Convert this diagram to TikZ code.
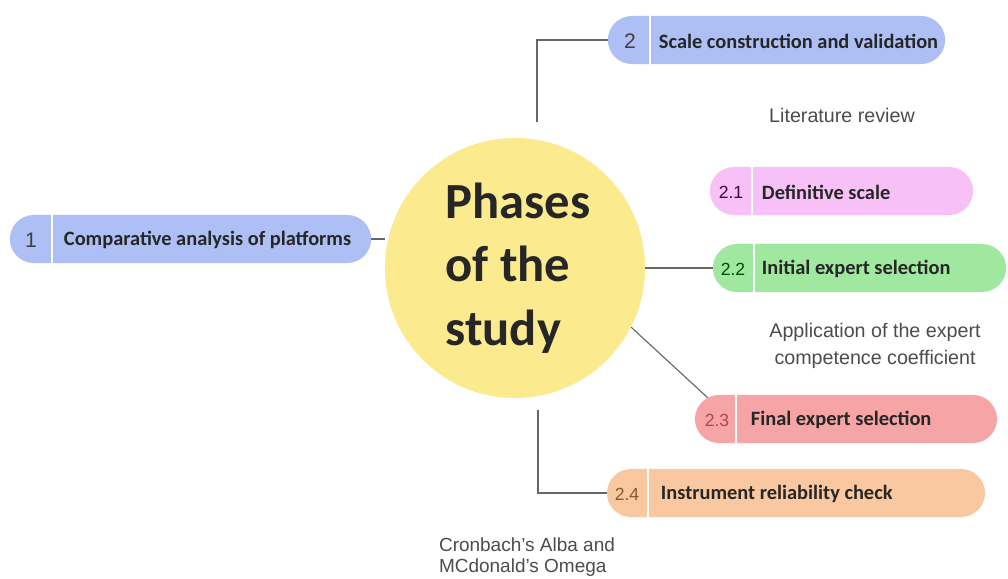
\documentclass[tikz,border=0pt]{standalone}
\usepackage{fontspec}
\setmainfont{Liberation Sans}
\newfontfamily\carlito{Carlito}
\usetikzlibrary{calc}
\definecolor{hubyellow}{HTML}{FBEA8E}
\definecolor{pblue}{HTML}{AEBFF5}
\definecolor{ppink}{HTML}{F7C0F7}
\definecolor{pgreen}{HTML}{A0E8A0}
\definecolor{pred}{HTML}{F5A5A5}
\definecolor{porange}{HTML}{F9C8A0}
\tikzset{
  pill/.style={rounded corners=0.6cm, minimum height=1.2cm, inner sep=0pt},
  num/.style={font=\fontsize{12.5}{12.5}\selectfont, text=black!70},
  bignum/.style={font=\fontsize{15}{15}\selectfont, text=black!75},
  lab/.style={anchor=west, font=\carlito\bfseries\fontsize{14.5}{14.5}\selectfont, text=black!85},
  note/.style={font=\fontsize{14}{17}\selectfont, text=black!70},
  link/.style={draw=black!60, line width=0.8pt},
  divider/.style={white, line width=1pt}
}
\begin{document}
\begin{tikzpicture}[x=0.025cm, y=-0.025cm]
\useasboundingbox[fill=white] (0,0) rectangle (1008,579);
% centre
\node[circle, fill=hubyellow, minimum size=6.5cm, inner sep=0pt] (hub) at (515,268) {};
\node[font=\carlito\bfseries\fontsize{36}{45}\selectfont, align=left, text=black!85] (title) at (518,268) {Phases\\of the\\study};
% phase 1
\node[pill, fill=pblue, minimum width=9.03cm] (p1) at (190.5,239) {};
\draw[divider] (52,215) -- (52,263);
\node[bignum] (n1) at (31,240) {1};
\node[lab] (l1) at (59,240) {Comparative analysis of platforms};
% phase 2
\node[pill, fill=pblue, minimum width=8.43cm] (p2) at (776.5,40) {};
\draw[divider] (650,15) -- (650,65);
\node[bignum] (n2) at (630,41) {2};
\node[lab] (l2) at (654,41) {Scale construction and validation};
\node[note] (lit) at (842,115) {Literature review};
\node[pill, fill=ppink, minimum width=6.58cm] (p21) at (841.5,191) {};
\draw[divider] (752,167) -- (752,215);
\node[num, text=violet!60!black] (n21) at (731,192) {2.1};
\node[lab] (l21) at (757,192) {Definitive scale};
\node[pill, fill=pgreen, minimum width=7.33cm] (p22) at (859.5,268) {};
\draw[divider] (754,244) -- (754,292);
\node[num, text=green!30!black] (n22) at (733,269) {2.2};
\node[lab] (l22) at (757,269) {Initial expert selection};
\node[note, align=center, font=\fontsize{14}{19}\selectfont] (app) at (875,346) {Application of the expert\\competence coefficient};
\node[pill, fill=pred, minimum width=7.55cm] (p23) at (846,419) {};
\draw[divider] (736,395) -- (736,443);
\node[num, text=red!45!gray] (n23) at (717,420) {2.3};
\node[lab] (l23) at (746,420) {Final expert selection};
\node[pill, fill=porange, minimum width=9.45cm] (p24) at (796,493) {};
\draw[divider] (648,469) -- (648,517);
\node[num, text=brown!70!black] (n24) at (627,494) {2.4};
\node[lab] (l24) at (656,494) {Instrument reliability check};
\node[note, align=left, font=\fontsize{13.5}{14.5}\selectfont] (alpha) at (527,557) {Cronbach's Alba and\\MCdonald's Omega};
% connectors
\coordinate (c2) at (537,122);
\coordinate (c24) at (538,410);
\draw[link] (p1.east) -- (hub.west |- p1.east);
\draw[link] (p2.west) -| (c2);
\draw[link] (hub.east) -- (p22.west);
\draw[link] (hub.-27) -- ($(p23.north west)+(13,3)$);
\draw[link] (c24) |- (p24.west);
\end{tikzpicture}
\end{document}
